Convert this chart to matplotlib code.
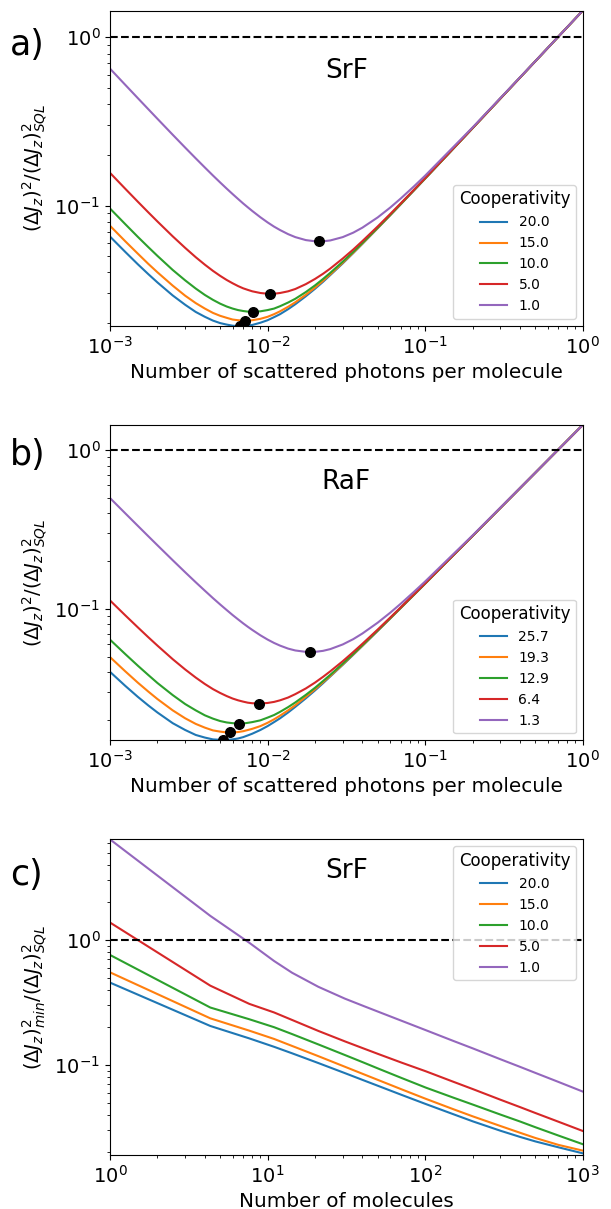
import matplotlib
matplotlib.use("Agg")
import matplotlib.pyplot as plt

# ---------------- data ----------------
photons = [1e-3, 1.25e-3, 1.5e-3, 1.75e-3, 2e-3, 2.5e-3, 3e-3, 3.5e-3, 4e-3, 4.5e-3,
           5e-3, 5.5e-3, 6e-3, 6.5e-3, 7e-3, 7.5e-3, 8e-3, 9e-3, 1e-2, 1.1e-2,
           1.2e-2, 1.35e-2, 1.5e-2, 1.75e-2, 2e-2, 2.25e-2, 2.5e-2, 3e-2, 3.5e-2, 4e-2,
           5e-2, 6e-2, 7e-2, 8.5e-2, 0.1, 0.2, 0.5, 1.0]

coop_srf = ["20.0", "15.0", "10.0", "5.0", "1.0"]
srf_c20 = [0.0654, 0.0530, 0.0448, 0.0391, 0.0349, 0.0292, 0.0257, 0.0233, 0.0218, 0.0207,
           0.0200, 0.0196, 0.0193, 0.0192, 0.0192, 0.0193, 0.0195, 0.0201, 0.0208, 0.0217,
           0.0226, 0.0242, 0.0259, 0.0289, 0.0320, 0.0352, 0.0386, 0.0453, 0.0522, 0.0592,
           0.0733, 0.0875, 0.1017, 0.1232, 0.1446, 0.2883, 0.7201, 1.4401]
srf_c15 = [0.0758, 0.0613, 0.0518, 0.0450, 0.0401, 0.0334, 0.0291, 0.0263, 0.0244, 0.0230,
           0.0221, 0.0215, 0.0210, 0.0208, 0.0207, 0.0207, 0.0208, 0.0212, 0.0218, 0.0226,
           0.0235, 0.0250, 0.0266, 0.0295, 0.0325, 0.0357, 0.0390, 0.0457, 0.0525, 0.0595,
           0.0735, 0.0876, 0.1019, 0.1233, 0.1447, 0.2884, 0.7201, 1.4401]
srf_c10 = [0.0960, 0.0775, 0.0652, 0.0566, 0.0502, 0.0414, 0.0359, 0.0321, 0.0294, 0.0275,
           0.0261, 0.0251, 0.0244, 0.0239, 0.0236, 0.0234, 0.0234, 0.0235, 0.0239, 0.0244,
           0.0252, 0.0265, 0.0279, 0.0306, 0.0335, 0.0366, 0.0398, 0.0464, 0.0531, 0.0600,
           0.0739, 0.0880, 0.1022, 0.1235, 0.1449, 0.2885, 0.7202, 1.4401]
srf_c5 = [0.1564, 0.1258, 0.1055, 0.0911, 0.0804, 0.0656, 0.0560, 0.0493, 0.0445, 0.0409,
          0.0382, 0.0361, 0.0345, 0.0332, 0.0322, 0.0315, 0.0309, 0.0302, 0.0299, 0.0299,
          0.0302, 0.0309, 0.0319, 0.0341, 0.0366, 0.0393, 0.0422, 0.0484, 0.0548, 0.0615,
          0.0751, 0.0890, 0.1030, 0.1242, 0.1456, 0.2888, 0.7203, 1.4402]
srf_c1 = [0.6514, 0.5218, 0.4355, 0.3740, 0.3279, 0.2636, 0.2210, 0.1908, 0.1683, 0.1509,
          0.1372, 0.1261, 0.1170, 0.1094, 0.1029, 0.0975, 0.0928, 0.0852, 0.0794, 0.0749,
          0.0715, 0.0676, 0.0649, 0.0623, 0.0613, 0.0613, 0.0620, 0.0649, 0.0690, 0.0739,
          0.0850, 0.0972, 0.1101, 0.1301, 0.1505, 0.2913, 0.7213, 1.4407]
srf_opt_x = [0.00667, 0.00719, 0.0081, 0.01037, 0.0212]
srf_opt_y = [0.0192, 0.0207, 0.0233, 0.0299, 0.0612]

coop_raf = ["25.7", "19.3", "12.9", "6.4", "1.3"]
raf_c257 = [0.0402, 0.0328, 0.0280, 0.0247, 0.0223, 0.0191, 0.0173, 0.0161, 0.0155, 0.0151,
            0.0150, 0.0150, 0.0151, 0.0153, 0.0156, 0.0160, 0.0164, 0.0173, 0.0183, 0.0194,
            0.0205, 0.0223, 0.0242, 0.0274, 0.0307, 0.0341, 0.0376, 0.0445, 0.0515, 0.0586,
            0.0728, 0.0870, 0.1014, 0.1229, 0.1444, 0.2882, 0.7201, 1.4400]
raf_c193 = [0.0498, 0.0405, 0.0344, 0.0302, 0.0271, 0.0230, 0.0205, 0.0189, 0.0179, 0.0172,
            0.0169, 0.0167, 0.0167, 0.0168, 0.0170, 0.0173, 0.0176, 0.0183, 0.0192, 0.0202,
            0.0213, 0.0230, 0.0248, 0.0280, 0.0312, 0.0346, 0.0379, 0.0448, 0.0518, 0.0588,
            0.0730, 0.0872, 0.1015, 0.1230, 0.1445, 0.2882, 0.7201, 1.4400]
raf_c129 = [0.0641, 0.0520, 0.0440, 0.0384, 0.0342, 0.0287, 0.0252, 0.0230, 0.0214, 0.0204,
            0.0197, 0.0193, 0.0191, 0.0190, 0.0190, 0.0192, 0.0194, 0.0199, 0.0207, 0.0215,
            0.0225, 0.0241, 0.0258, 0.0288, 0.0319, 0.0352, 0.0385, 0.0453, 0.0522, 0.0592,
            0.0733, 0.0875, 0.1017, 0.1231, 0.1446, 0.2883, 0.7201, 1.4401]
raf_c64 = [0.1132, 0.0912, 0.0767, 0.0664, 0.0588, 0.0483, 0.0416, 0.0370, 0.0337, 0.0313,
           0.0296, 0.0283, 0.0273, 0.0266, 0.0261, 0.0257, 0.0255, 0.0254, 0.0256, 0.0260,
           0.0266, 0.0277, 0.0291, 0.0316, 0.0344, 0.0374, 0.0405, 0.0469, 0.0536, 0.0604,
           0.0742, 0.0883, 0.1024, 0.1237, 0.1451, 0.2886, 0.7202, 1.4401]
raf_c13 = [0.4994, 0.4002, 0.3342, 0.2871, 0.2519, 0.2028, 0.1703, 0.1473, 0.1303, 0.1171,
           0.1068, 0.0985, 0.0916, 0.0860, 0.0812, 0.0772, 0.0738, 0.0683, 0.0642, 0.0611,
           0.0588, 0.0563, 0.0548, 0.0537, 0.0537, 0.0545, 0.0559, 0.0598, 0.0646, 0.0701,
           0.0820, 0.0947, 0.1079, 0.1283, 0.1490, 0.2905, 0.7210, 1.4405]
raf_opt_x = [0.00519, 0.0058, 0.0066, 0.00881, 0.0186]
raf_opt_y = [0.01495, 0.0167, 0.0190, 0.0254, 0.0536]

molecules = [1, 4.33, 7.66, 11, 14.3, 21, 31, 41, 51, 71, 101, 151, 201, 301, 401, 501, 701, 1000]
min_c20 = [0.456, 0.205, 0.163, 0.1396, 0.1239, 0.1035, 0.0859, 0.0750, 0.0675, 0.0575, 0.0486,
           0.0403, 0.0353, 0.0297, 0.0265, 0.0244, 0.0219, 0.0196]
min_c15 = [0.551, 0.236, 0.188, 0.1614, 0.1419, 0.1175, 0.0966, 0.0839, 0.0752, 0.0637, 0.0535,
           0.0442, 0.0387, 0.0324, 0.0286, 0.0260, 0.0229, 0.0206]
min_c10 = [0.759, 0.288, 0.232, 0.2004, 0.1766, 0.1459, 0.1199, 0.1040, 0.0929, 0.0785, 0.0658,
           0.0547, 0.0481, 0.0400, 0.0352, 0.0317, 0.0272, 0.0232]
min_c5 = [1.38, 0.431, 0.308, 0.2630, 0.2291, 0.1871, 0.1542, 0.1349, 0.1216, 0.1042, 0.0889,
          0.0733, 0.0640, 0.0526, 0.0459, 0.0412, 0.0351, 0.0296]
min_c1 = [6.39, 1.56, 0.950, 0.679, 0.547, 0.422, 0.339, 0.295, 0.265, 0.2254, 0.1897,
          0.1556, 0.1355, 0.1109, 0.0964, 0.0863, 0.0731, 0.0612]

colors = ["#1f77b4", "#ff7f0e", "#2ca02c", "#d62728", "#9467bd"]

# ---------------- figure ----------------
fig = plt.figure(figsize=(6.11, 12.09), dpi=100)
W, H = 611, 1209


def add_ax(left, right, top, bottom):
    return fig.add_axes([left / W, 1 - bottom / H, (right - left) / W, (bottom - top) / H])


ax_a = add_ax(110, 582.7, 10.7, 325.7)
ax_b = add_ax(110, 582.7, 425, 740.3)
ax_c = add_ax(110, 582.7, 839.3, 1155)

ylab = r"$(\Delta J_z)^2/(\Delta J_z)^2_{SQL}$"
xlab = "Number of scattered photons per molecule"

for ax, series, labels, ox, oy, name, ylim, ty in [
    (ax_a, [srf_c20, srf_c15, srf_c10, srf_c5, srf_c1], coop_srf, srf_opt_x, srf_opt_y, "SrF", (0.0193, 1.44), 0.81),
    (ax_b, [raf_c257, raf_c193, raf_c129, raf_c64, raf_c13], coop_raf, raf_opt_x, raf_opt_y, "RaF", (0.0149, 1.44), 0.82),
]:
    for s, lab, col in zip(series, labels, colors):
        ax.plot(photons, s, color=col, lw=1.5, label=lab)
    ax.axhline(1.0, color="k", ls="--", lw=1.5)
    ax.scatter(ox, oy, s=48, color="k", zorder=5)
    ax.set_xscale("log")
    ax.set_yscale("log")
    ax.set_xlim(1e-3, 1.0)
    ax.set_ylim(*ylim)
    ax.set_xlabel(xlab, fontsize=14.4)
    ax.set_ylabel(ylab, fontsize=14)
    ax.tick_params(labelsize=14)
    ax.text(0.5, ty, name, transform=ax.transAxes, ha="center", va="center", fontsize=19)
    ax.legend(title="Cooperativity", loc="lower right", fontsize=10, title_fontsize=12)

for s, lab, col in zip([min_c20, min_c15, min_c10, min_c5, min_c1], coop_srf, colors):
    ax_c.plot(molecules, s, color=col, lw=1.5, label=lab)
ax_c.axhline(1.0, color="k", ls="--", lw=1.5)
ax_c.set_xscale("log")
ax_c.set_yscale("log")
ax_c.set_xlim(1, 1000)
ax_c.set_ylim(0.019, 6.4)
ax_c.set_xlabel("Number of molecules", fontsize=14.4)
ax_c.set_ylabel(r"$(\Delta J_z)^2_{min}/(\Delta J_z)^2_{SQL}$", fontsize=14)
ax_c.tick_params(labelsize=14)
ax_c.text(0.5, 0.90, "SrF", transform=ax_c.transAxes, ha="center", va="center", fontsize=19)
ax_c.legend(title="Cooperativity", loc="upper right", fontsize=10, title_fontsize=12)

fig.text(10 / W, 1 - 45 / H, "a)", fontsize=25, va="center", ha="left")
fig.text(10 / W, 1 - 455 / H, "b)", fontsize=25, va="center", ha="left")
fig.text(10 / W, 1 - 875 / H, "c)", fontsize=25, va="center", ha="left")

fig.savefig("out.png", dpi=100)
